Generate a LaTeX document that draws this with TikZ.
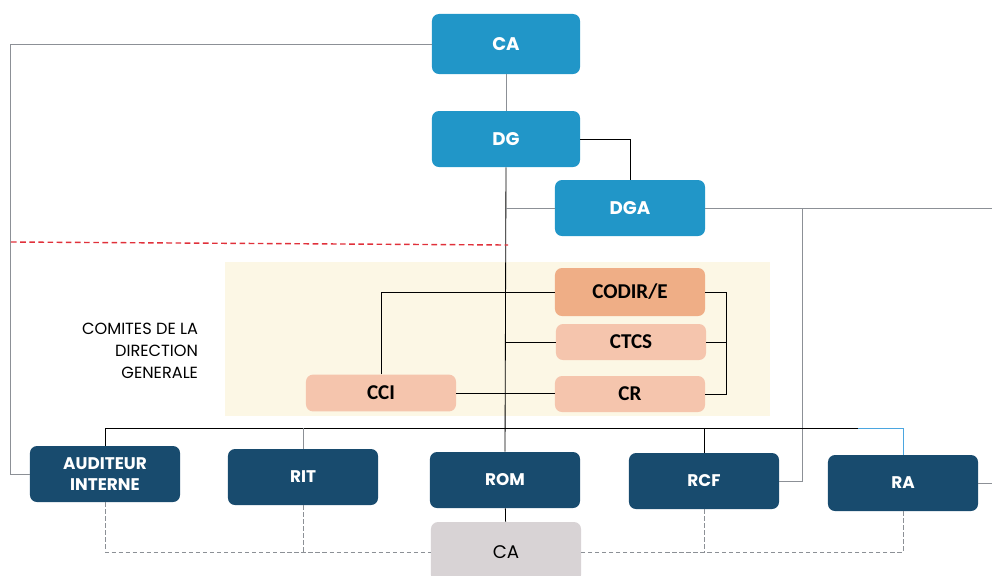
\documentclass[tikz,border=0pt]{standalone}
\usepackage{fontspec}
\setmainfont{Poppins}
\newfontfamily\comitefont{Carlito}
\definecolor{Top_Blue}{HTML}{2196C8}
\definecolor{Unit_Navy}{HTML}{184B6E}
\definecolor{Codir_Orange}{HTML}{EFAE86}
\definecolor{Comite_Rose}{HTML}{F5C5AD}
\definecolor{Comite_Cream}{HTML}{FCF7E5}
\definecolor{Board_Grey}{HTML}{D8D3D5}
\definecolor{Line_Grey}{HTML}{8C9096}
\definecolor{Cut_Red}{HTML}{E0303A}
\definecolor{Bus_Blue}{HTML}{4BA6E0}

\begin{document}
\begin{tikzpicture}[x=0.025cm, y=-0.025cm,
    topbox/.style={rectangle, rounded corners=5pt, fill=Top_Blue, text=white, font=\bfseries\fontsize{13}{15}\selectfont, minimum width=3.7cm, minimum height=1.4cm},
    unitbox/.style={rectangle, rounded corners=5pt, fill=Unit_Navy, text=white, font=\bfseries\fontsize{12}{15}\selectfont, align=center, minimum width=3.75cm, minimum height=1.4cm},
    comitebox/.style={rectangle, rounded corners=5pt, fill=Comite_Rose, font=\comitefont\bfseries\fontsize{15}{17}\selectfont, minimum width=3.75cm, minimum height=0.9cm},
    solidlink/.style={draw=black, line width=0.6pt},
    thinlink/.style={draw=Line_Grey, line width=0.5pt},
    dashlink/.style={draw=Line_Grey, line width=0.6pt, dash pattern=on 3pt off 2pt}]

    \useasboundingbox (0,0) rectangle (992,575);
    \clip (0,0) rectangle (992,575);

    % Committees background
    \fill[Comite_Cream] (225,262) rectangle (770,416);

    % Management
    \node[topbox, minimum height=1.5cm] (ca) at (506,44) {CA};
    \node[topbox] (dg) at (506,139) {DG};
    \node[topbox, minimum width=3.75cm] (dga) at (630,208) {DGA};

    % Committees
    \node[comitebox, fill=Codir_Orange, minimum height=1.2cm] (codir) at (630,292) {CODIR/E};
    \node[comitebox] (ctcs) at (631,342) {CTCS};
    \node[comitebox] (cr) at (630,394) {CR};
    \node[comitebox, minimum height=0.92cm] (cci) at (381,393) {CCI};
    \node[align=right, anchor=east, font=\fontsize{11.5}{15.5}\selectfont] (comites) at (203,351) {COMITES DE LA\\DIRECTION\\GENERALE};

    % Operational units
    \node[unitbox] (aud) at (105,474) {AUDITEUR\\INTERNE};
    \node[unitbox] (rit) at (303,477) {RIT};
    \node[unitbox] (rom) at (505,480) {ROM};
    \node[unitbox] (rcf) at (704,481) {RCF};
    \node[unitbox] (ra) at (903,483) {RA};
    \node[rectangle, rounded corners=5pt, fill=Board_Grey, minimum width=3.75cm, minimum height=1.5cm, font=\fontsize{13}{15}\selectfont] (cab) at (506,552) {CA};

    \coordinate (dgaout) at (992,208);
    \coordinate (busend) at (858,428);

    % Board and direction
    \draw[thinlink] (ca.west) -- ++(-421,0) |- (aud.west);
    \draw[thinlink] (ca) -- (dg);
    \draw[solidlink] (dg.east) -| (dga.north);
    \draw[solidlink] (dg.south) -- (rom.north);
    \draw[solidlink] (rom) -- (cab);
    \draw[thinlink] (dg.south |- dga.west) -- (dga.west);
    \draw[thinlink] (dga.east) -- (dgaout);
    \draw[thinlink] (rcf.east) -- ++(23,0) |- (dga.east);
    \draw[Cut_Red, line width=1pt, dash pattern=on 4pt off 2.5pt] (11,242) -- (508,245);

    % Committee links
    \draw[solidlink] (cci.north) |- (codir.west);
    \draw[solidlink] (dg.south |- ctcs.west) -- (ctcs.west);
    \draw[solidlink] (cci.east) -- (cci.east -| cr.west);
    \draw[solidlink] (codir.east) -- ++(21,0) |- (cr.east);
    \draw[solidlink] (ctcs.east) -- ++(20,0);

    % Units bus
    \draw[solidlink] (aud.north) |- (busend);
    \draw[Bus_Blue, line width=0.6pt] (busend) -| (ra.north);
    \draw[solidlink] (rcf.north) -- (rcf.north |- busend);
    \draw[thinlink] (rit.north) -- (rit.north |- busend);
    \draw[thinlink] (ra.east) -- ++(14,0);

    % Reporting to the board
    \draw[dashlink] (aud.south) |- (cab.west);
    \draw[dashlink] (rit.south) -- (rit.south |- cab.west);
    \draw[dashlink] (ra.south) |- (cab.east);
    \draw[dashlink] (rcf.south) -- (rcf.south |- cab.east);
\end{tikzpicture}
\end{document}
